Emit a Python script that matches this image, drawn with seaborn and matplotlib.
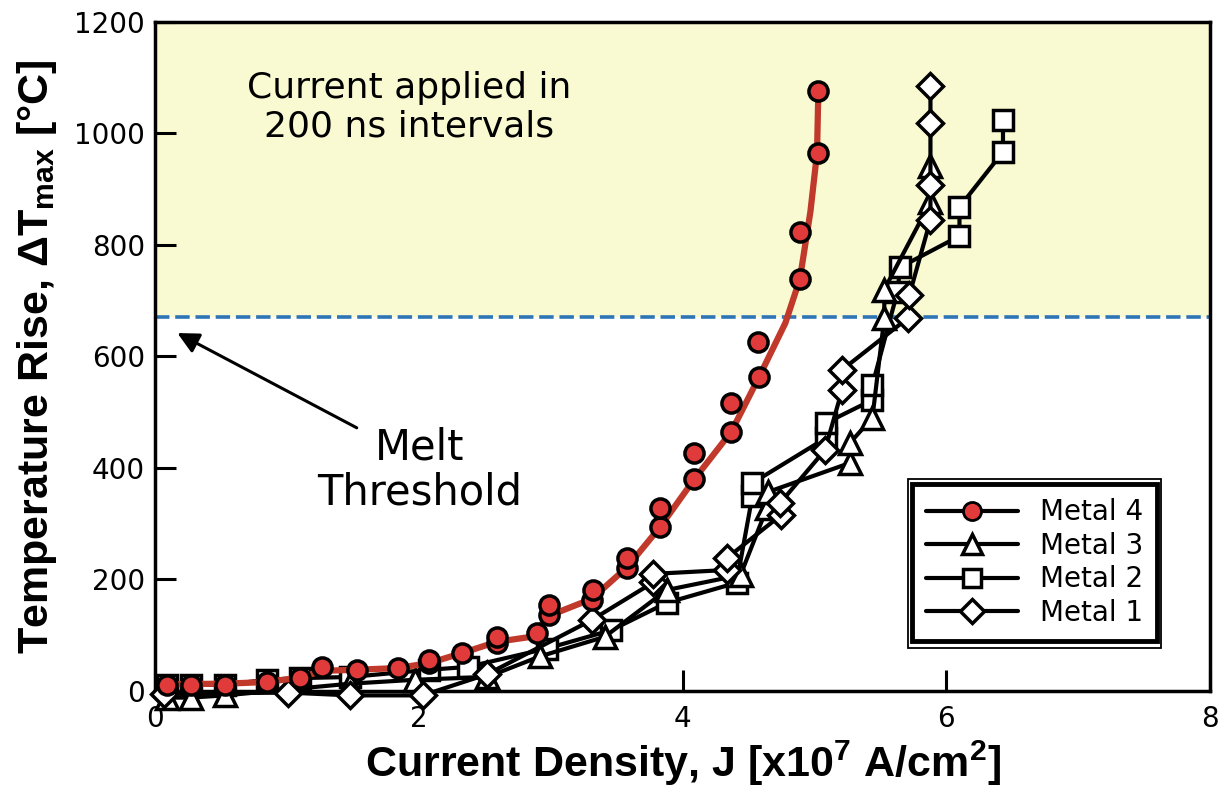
import matplotlib
matplotlib.use("Agg")
import matplotlib.pyplot as plt
import seaborn as sns
from matplotlib.lines import Line2D
from matplotlib.patches import Rectangle
from matplotlib.transforms import IdentityTransform

# ---------------- data ----------------
m4_x = [0.09, 0.27, 0.53, 0.85, 1.10, 1.27, 1.53, 1.84, 2.08, 2.08, 2.33, 2.59, 2.59,
        2.90, 2.99, 2.99, 3.31, 3.32, 3.58, 3.58, 3.83, 3.83, 4.09, 4.09, 4.37, 4.37,
        4.58, 4.57, 4.89, 4.89, 5.03, 5.03]
m4_y = [11, 11, 11, 16, 23, 43, 38, 41, 50, 56, 68, 86, 97,
        104, 136, 154, 163, 181, 221, 239, 294, 328, 380, 427, 465, 517,
        563, 626, 739, 823, 965, 1076]

m4_curve_x = [0.09, 0.53, 0.85, 1.10, 1.27, 1.53, 1.84, 2.08, 2.33, 2.59, 2.85, 2.99,
              3.31, 3.58, 3.83, 4.09, 4.37, 4.58, 4.78, 4.89, 4.97, 5.02, 5.03]
m4_curve_y = [12, 13, 16, 24, 36, 38, 41, 50, 68, 88, 97, 135,
              165, 222, 294, 380, 465, 563, 660, 739, 860, 965, 1076]

m3_x = [0.09, 0.27, 0.53, 1.48, 1.97, 2.52, 2.92, 3.41, 3.88, 4.44, 4.64, 4.65,
        5.27, 5.27, 5.44, 5.53, 5.53, 5.88, 5.88]
m3_y = [-12, -12, -8, 13, 20, 25, 62, 97, 181, 208, 328, 357,
        409, 445, 490, 669, 720, 877, 942]

m2_x = [0.09, 0.27, 0.53, 0.85, 1.10, 1.48, 2.08, 2.37, 2.97, 3.46, 3.88, 4.41,
        4.53, 4.53, 5.09, 5.09, 5.44, 5.44, 5.63, 5.65, 6.10, 6.10, 6.43, 6.43]
m2_y = [11, 11, 11, 20, 23, 25, 38, 43, 76, 109, 158, 194,
        350, 373, 454, 481, 522, 549, 716, 760, 816, 868, 967, 1024]

m1_x = [0.07, 1.01, 1.48, 2.03, 2.52, 3.31, 3.78, 3.78, 4.34, 4.34, 4.75, 4.74,
        5.08, 5.21, 5.21, 5.71, 5.72, 5.88, 5.88, 5.88, 5.88]
m1_y = [-5, -3, -8, -8, 30, 127, 195, 210, 217, 239, 316, 337,
        432, 540, 576, 669, 710, 845, 908, 1019, 1085]

melt_threshold = 670
x_ticks = [0, 2, 4, 6, 8]
y_ticks = [0, 200, 400, 600, 800, 1000, 1200]
labels = ["Metal 4", "Metal 3", "Metal 2", "Metal 1"]

# ---------------- style ----------------
sns.set_style("ticks")
plt.rcParams["font.family"] = ["DejaVu Sans"]
plt.rcParams["mathtext.fontset"] = "custom"
plt.rcParams["mathtext.rm"] = "Liberation Sans:bold"
plt.rcParams["mathtext.bf"] = "Liberation Sans:bold"
plt.rcParams["mathtext.it"] = "Liberation Sans:bold"
for k in ["text.color", "axes.labelcolor", "xtick.color", "ytick.color", "axes.edgecolor"]:
    plt.rcParams[k] = "black"
plt.rcParams["xtick.direction"] = "in"
plt.rcParams["ytick.direction"] = "in"
plt.rcParams["xtick.major.size"] = 15
plt.rcParams["ytick.major.size"] = 15
plt.rcParams["xtick.major.width"] = 2.2
plt.rcParams["ytick.major.width"] = 2.2

red_fill = "#E03A3A"
red_line = "#C0392B"
blue = "#2E75B6"

fig = plt.figure(figsize=(12.24, 7.96), dpi=100)
ax = fig.add_axes([0.1266, 0.132, 0.862, 0.8404])
ax.set_axisbelow(False)

ax.axhspan(melt_threshold, 1200, color="#FAFAD2", zorder=0, lw=0)
ax.axhline(melt_threshold, color=blue, lw=2.6, dashes=(4, 1.6), zorder=1)

common = dict(color="black", linewidth=3, markerfacecolor="white",
              markeredgecolor="black", markeredgewidth=2.5,
              sort=False, estimator=None, clip_on=False, ax=ax)
sns.lineplot(x=m2_x, y=m2_y, marker="s", markersize=14, zorder=3, **common)
sns.lineplot(x=m3_x, y=m3_y, marker="^", markersize=16, zorder=3, **common)
sns.lineplot(x=m1_x, y=m1_y, marker="D", markersize=13, zorder=3, **common)

sns.lineplot(x=m4_curve_x, y=m4_curve_y, color=red_line, linewidth=4.5,
             sort=False, estimator=None, ax=ax, zorder=4, clip_on=False)
sns.scatterplot(x=m4_x, y=m4_y, s=190, color=red_fill, edgecolor="black",
                linewidth=2.5, ax=ax, zorder=5, clip_on=False)

ax.set_xlim(0, 8)
ax.set_ylim(0, 1200)
ax.set_xticks(x_ticks)
ax.set_yticks(y_ticks)
ax.tick_params(axis="both", which="major", direction="in", length=15, width=2.2,
               labelsize=20, pad=7, bottom=True, left=True, top=False, right=False,
               color="black", labelcolor="black")
ax.tick_params(axis="x", pad=10)
ax.minorticks_off()
for sp in ax.spines.values():
    sp.set_linewidth(2.5)
    sp.set_color("black")
    sp.set_zorder(2.6)

ax.set_xlabel(r"Current Density, J [x10$^{7}$ A/cm$^{2}$]",
              family="Liberation Sans", fontweight="bold", fontsize=31, labelpad=4)
ax.set_ylabel(r"Temperature Rise, ΔT$_{max}$ [°C]",
              family="Liberation Sans", fontweight="bold", fontsize=31, labelpad=11)

ax.text(1.93, 1047, "Current applied in\n200 ns intervals", ha="center", va="center",
        fontsize=26, linespacing=1.15)
ax.text(2.01, 396, "Melt\nThreshold", ha="center", va="center",
        fontsize=30, linespacing=1.1)
ax.annotate("", xy=(0.17, 642), xytext=(1.53, 472),
            arrowprops=dict(arrowstyle="-|>", color="black", lw=2.2,
                            mutation_scale=32, shrinkA=0, shrinkB=0))

handles = [
    Line2D([], [], color="black", lw=3, marker="o", markersize=13,
           markerfacecolor=red_fill, markeredgecolor="black", markeredgewidth=2),
    Line2D([], [], color="black", lw=3, marker="^", markersize=14,
           markerfacecolor="white", markeredgecolor="black", markeredgewidth=2.5),
    Line2D([], [], color="black", lw=3, marker="s", markersize=13,
           markerfacecolor="white", markeredgecolor="black", markeredgewidth=2.5),
    Line2D([], [], color="black", lw=3, marker="D", markersize=12,
           markerfacecolor="white", markeredgecolor="black", markeredgewidth=2.5),
]
leg = ax.legend(handles, labels, loc="lower right", bbox_to_anchor=(0.963, 0.054),
                fontsize=20, frameon=True, fancybox=False, framealpha=1,
                edgecolor="black", handlelength=3.3, labelspacing=0.2,
                borderpad=0.5, handletextpad=0.8)
leg.get_frame().set_linewidth(3.5)
leg.set_zorder(6)

fig.canvas.draw()
bb = leg.get_frame().get_window_extent()
fig.add_artist(Rectangle((bb.x0 - 4, bb.y0 - 7), bb.width + 8, bb.height + 12,
                         transform=IdentityTransform(), fill=False,
                         edgecolor="black", lw=1.3))

fig.savefig("out.png", dpi=100)
